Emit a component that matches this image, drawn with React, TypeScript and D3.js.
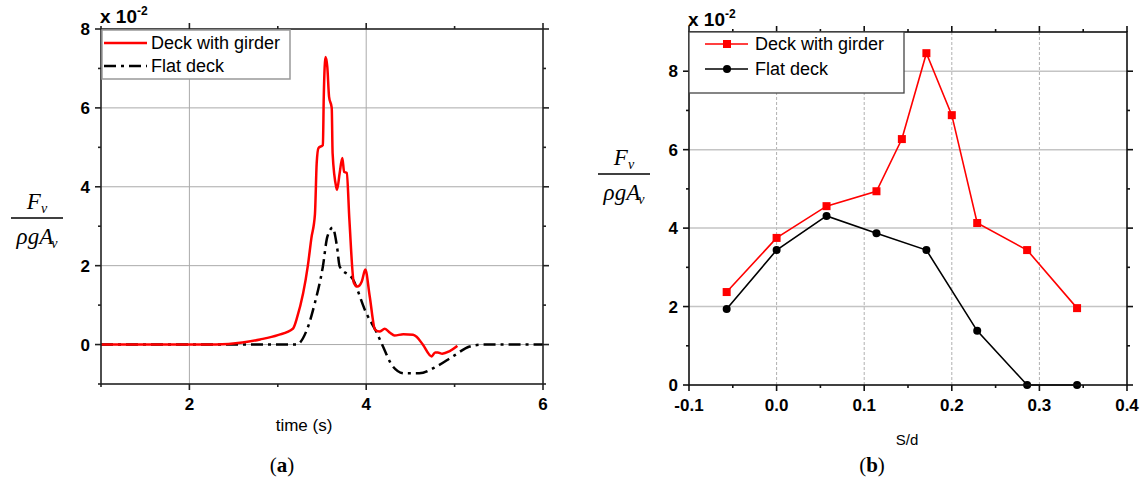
import * as d3 from "d3";
import { useEffect, useRef } from "react";

// panel (a): time history of vertical force
const timeGirder = [1, 2.3, 2.6, 2.8, 3.0, 3.17, 3.22, 3.34, 3.38, 3.42, 3.44, 3.46, 3.51, 3.52, 3.54, 3.56, 3.58, 3.61, 3.62, 3.66, 3.67, 3.7, 3.73, 3.75, 3.78, 3.81, 3.86, 3.9, 3.95, 3.99, 4.04, 4.1, 4.15, 4.21, 4.27, 4.32, 4.42, 4.53, 4.57, 4.64, 4.74, 4.78, 4.81, 4.86, 4.94, 5.01, 5.03];
const forceGirder = [0, 0, 0.05, 0.13, 0.24, 0.4, 0.7, 2.0, 2.7, 3.3, 4.6, 4.98, 5.06, 6.28, 7.29, 7.04, 6.28, 6.0, 4.85, 4.0, 3.92, 4.35, 4.73, 4.38, 4.35, 3.16, 1.57, 1.47, 1.6, 1.9, 1.22, 0.38, 0.33, 0.4, 0.3, 0.23, 0.26, 0.25, 0.2, 0, -0.3, -0.2, -0.2, -0.23, -0.17, -0.07, -0.03];
const timeFlat = [1, 2.5, 3.21, 3.33, 3.42, 3.51, 3.56, 3.62, 3.67, 3.7, 3.85, 4.0, 4.12, 4.19, 4.3, 4.43, 4.6, 4.8, 4.98, 5.17, 5.32, 6];
const forceFlat = [0, 0, 0, 0.38, 1.06, 1.98, 2.73, 2.96, 2.48, 1.98, 1.65, 0.8, 0.3, -0.05, -0.55, -0.73, -0.73, -0.55, -0.3, -0.05, 0, 0];

// panel (b): peak force against S/d
const sdGirder = [-0.057, 0.0, 0.057, 0.114, 0.143, 0.171, 0.2, 0.229, 0.286, 0.343];
const peakGirder = [2.37, 3.75, 4.56, 4.94, 6.27, 8.46, 6.88, 4.13, 3.44, 1.96];
const sdFlat = [-0.057, 0.0, 0.057, 0.114, 0.171, 0.229, 0.286, 0.343];
const peakFlat = [1.94, 3.44, 4.31, 3.87, 3.44, 1.38, 0, 0];

const aXMajor = [2, 4, 6];
const aXMinor = [1, 3, 5];
const aYMajor = [0, 2, 4, 6, 8];
const aYMinor = [-1, 1, 3, 5, 7];
const bXMajor = [-0.1, 0.0, 0.1, 0.2, 0.3, 0.4];
const bXMinor = [-0.05, 0.05, 0.15, 0.25, 0.35];
const bYMajor = [0, 2, 4, 6, 8];
const bYMinor = [1, 3, 5, 7];

const legendNames = ["Deck with girder", "Flat deck"];

const SANS = "'Liberation Sans', Arial, sans-serif";
const SERIF = "'Liberation Serif', 'Times New Roman', serif";

function frame(g, x, y, xMajor, xMinor, yMajor, yMinor, fmtX, color) {
  const [x0, x1] = x.range();
  const [y0, y1] = y.range(); // y0 bottom, y1 top
  const ax = g.append("g").attr("stroke", color).attr("stroke-width", 1.6);
  ax.append("rect").attr("x", x0).attr("y", y1).attr("width", x1 - x0).attr("height", y0 - y1).attr("fill", "none");
  const tick = (v, len, horiz) => {
    if (horiz) {
      ax.append("line").attr("x1", x(v)).attr("x2", x(v)).attr("y1", y0).attr("y2", y0 + len);
      ax.append("line").attr("x1", x(v)).attr("x2", x(v)).attr("y1", y1).attr("y2", y1 - len);
    } else {
      ax.append("line").attr("y1", y(v)).attr("y2", y(v)).attr("x1", x0).attr("x2", x0 - len);
      ax.append("line").attr("y1", y(v)).attr("y2", y(v)).attr("x1", x1).attr("x2", x1 + len);
    }
  };
  xMajor.forEach(v => tick(v, 6, true));
  xMinor.forEach(v => tick(v, 3, true));
  yMajor.forEach(v => tick(v, 6, false));
  yMinor.forEach(v => tick(v, 3, false));

  g.selectAll(null).data(xMajor).join("text")
    .attr("x", d => x(d)).attr("y", y0 + 26).attr("text-anchor", "middle")
    .attr("font-family", SANS).attr("font-weight", "bold").attr("font-size", 17)
    .text(fmtX);
  g.selectAll(null).data(yMajor).join("text")
    .attr("x", x0 - 11).attr("y", d => y(d) + 6).attr("text-anchor", "end")
    .attr("font-family", SANS).attr("font-weight", "bold").attr("font-size", 17)
    .text(d => d);

  const exp = g.append("text").attr("x", x0 - 1).attr("y", y1 - 6)
    .attr("font-family", SANS).attr("font-weight", "bold").attr("font-size", 19);
  exp.append("tspan").text("x 10");
  exp.append("tspan").attr("dy", -8).attr("font-size", 12).text("-2");
}

function fraction(svg, cx, lineY) {
  const g = svg.append("g").attr("font-family", SERIF).attr("font-style", "italic").attr("font-size", 23);
  const top = g.append("text").attr("x", cx).attr("y", lineY - 9).attr("text-anchor", "middle");
  top.append("tspan").text("F");
  top.append("tspan").attr("font-size", 14).attr("dy", 4).text("v");
  g.append("line").attr("x1", cx - 26).attr("x2", cx + 26).attr("y1", lineY).attr("y2", lineY)
    .attr("stroke", "#000").attr("stroke-width", 1.3);
  const bot = g.append("text").attr("x", cx).attr("y", lineY + 26).attr("text-anchor", "middle");
  bot.append("tspan").text("ρgA");
  bot.append("tspan").attr("font-size", 14).attr("dy", 4).attr("dx", -2).text("v");
}

export default function App() {
  const ref = useRef(null);

  useEffect(() => {
    const svg = d3.select(ref.current);
    svg.selectAll("*").remove();

    // ---------------- panel (a)
    const xa = d3.scaleLinear().domain([1, 6]).range([101, 543]);
    const ya = d3.scaleLinear().domain([-1, 8]).range([384, 29]);
    const ga = svg.append("g");

    ga.selectAll(null).data([2, 4]).join("line")
      .attr("x1", d => xa(d)).attr("x2", d => xa(d)).attr("y1", 29).attr("y2", 384)
      .attr("stroke", "#aaa").attr("stroke-width", 1);
    ga.selectAll(null).data([0, 2, 4, 6]).join("line")
      .attr("y1", d => ya(d)).attr("y2", d => ya(d)).attr("x1", 101).attr("x2", 543)
      .attr("stroke", "#aaa").attr("stroke-width", 1);

    const lineA = d3.line().x(d => xa(d[0])).y(d => ya(d[1])).curve(d3.curveMonotoneX);
    ga.append("path").attr("d", lineA(d3.zip(timeFlat, forceFlat)))
      .attr("fill", "none").attr("stroke", "#000").attr("stroke-width", 2.5)
      .attr("stroke-dasharray", "12,5,3,5");
    ga.append("path").attr("d", lineA(d3.zip(timeGirder, forceGirder)))
      .attr("fill", "none").attr("stroke", "#ff0000").attr("stroke-width", 2.5);

    frame(ga, xa, ya, aXMajor, aXMinor, aYMajor, aYMinor, d => d, "#222");

    const la = ga.append("g");
    la.append("rect").attr("x", 102).attr("y", 30).attr("width", 188).attr("height", 49)
      .attr("fill", "#fff").attr("stroke", "#999").attr("stroke-width", 1.5);
    la.append("line").attr("x1", 104).attr("x2", 147).attr("y1", 43).attr("y2", 43)
      .attr("stroke", "#ff0000").attr("stroke-width", 2.5);
    la.append("line").attr("x1", 104).attr("x2", 147).attr("y1", 66).attr("y2", 66)
      .attr("stroke", "#000").attr("stroke-width", 2.5).attr("stroke-dasharray", "12,5,3,5");
    la.selectAll(null).data(legendNames).join("text")
      .attr("x", 151).attr("y", (d, i) => 49 + i * 23)
      .attr("font-family", SANS).attr("font-size", 18).text(d => d);

    ga.append("text").attr("x", 304).attr("y", 431).attr("text-anchor", "middle")
      .attr("font-family", SANS).attr("font-size", 17).text("time (s)");

    fraction(svg, 37, 218);

    const capA = svg.append("text").attr("x", 282).attr("y", 472).attr("text-anchor", "middle")
      .attr("font-family", SERIF).attr("font-size", 21);
    capA.append("tspan").text("(");
    capA.append("tspan").attr("font-weight", "bold").text("a");
    capA.append("tspan").text(")");

    // ---------------- panel (b)
    const xb = d3.scaleLinear().domain([-0.1, 0.4]).range([689, 1127]);
    const yb = d3.scaleLinear().domain([0, 9]).range([385, 32]);
    const gb = svg.append("g");

    gb.selectAll(null).data([0.0, 0.1, 0.2, 0.3]).join("line")
      .attr("x1", d => xb(d)).attr("x2", d => xb(d)).attr("y1", 32).attr("y2", 385)
      .attr("stroke", "#b0b0b0").attr("stroke-width", 1).attr("stroke-dasharray", "3,2");
    gb.selectAll(null).data([2, 4, 6, 8]).join("line")
      .attr("y1", d => yb(d)).attr("y2", d => yb(d)).attr("x1", 689).attr("x2", 1127)
      .attr("stroke", "#c4c4c4").attr("stroke-width", 1.5);

    const lineB = d3.line().x(d => xb(d[0])).y(d => yb(d[1]));
    const flatPts = d3.zip(sdFlat, peakFlat);
    const girderPts = d3.zip(sdGirder, peakGirder);
    gb.append("path").attr("d", lineB(flatPts)).attr("fill", "none").attr("stroke", "#000").attr("stroke-width", 1.6);
    gb.selectAll(null).data(flatPts).join("circle")
      .attr("cx", d => xb(d[0])).attr("cy", d => yb(d[1])).attr("r", 4).attr("fill", "#000");
    gb.append("path").attr("d", lineB(girderPts)).attr("fill", "none").attr("stroke", "#ff0000").attr("stroke-width", 1.6);
    gb.selectAll(null).data(girderPts).join("rect")
      .attr("x", d => xb(d[0]) - 4).attr("y", d => yb(d[1]) - 4).attr("width", 8).attr("height", 8).attr("fill", "#ff0000");

    frame(gb, xb, yb, bXMajor, bXMinor, bYMajor, bYMinor, d => d.toFixed(1), "#111");

    const lb = gb.append("g");
    lb.append("rect").attr("x", 689).attr("y", 32).attr("width", 215).attr("height", 61)
      .attr("fill", "#fff").attr("stroke", "#444").attr("stroke-width", 1.3);
    lb.append("line").attr("x1", 705).attr("x2", 748).attr("y1", 44).attr("y2", 44)
      .attr("stroke", "#ff0000").attr("stroke-width", 1.6);
    lb.append("rect").attr("x", 723).attr("y", 40).attr("width", 8).attr("height", 8).attr("fill", "#ff0000");
    lb.append("line").attr("x1", 705).attr("x2", 748).attr("y1", 69).attr("y2", 69)
      .attr("stroke", "#000").attr("stroke-width", 1.6);
    lb.append("circle").attr("cx", 727).attr("cy", 69).attr("r", 4).attr("fill", "#000");
    lb.selectAll(null).data(legendNames).join("text")
      .attr("x", 755).attr("y", (d, i) => 50 + i * 25)
      .attr("font-family", SANS).attr("font-size", 18).text(d => d);

    gb.append("text").attr("x", 907).attr("y", 445).attr("text-anchor", "middle")
      .attr("font-family", SANS).attr("font-size", 15).text("S/d");

    fraction(svg, 624, 174);

    const capB = svg.append("text").attr("x", 872).attr("y", 472).attr("text-anchor", "middle")
      .attr("font-family", SERIF).attr("font-size", 21);
    capB.append("tspan").text("(");
    capB.append("tspan").attr("font-weight", "bold").text("b");
    capB.append("tspan").text(")");

    return () => { svg.selectAll("*").remove(); };
  }, []);

  return (
    <svg ref={ref} width={1145} height={488}
      style={{ position: "absolute", left: 0, top: 0, background: "#fff" }} />
  );
}
